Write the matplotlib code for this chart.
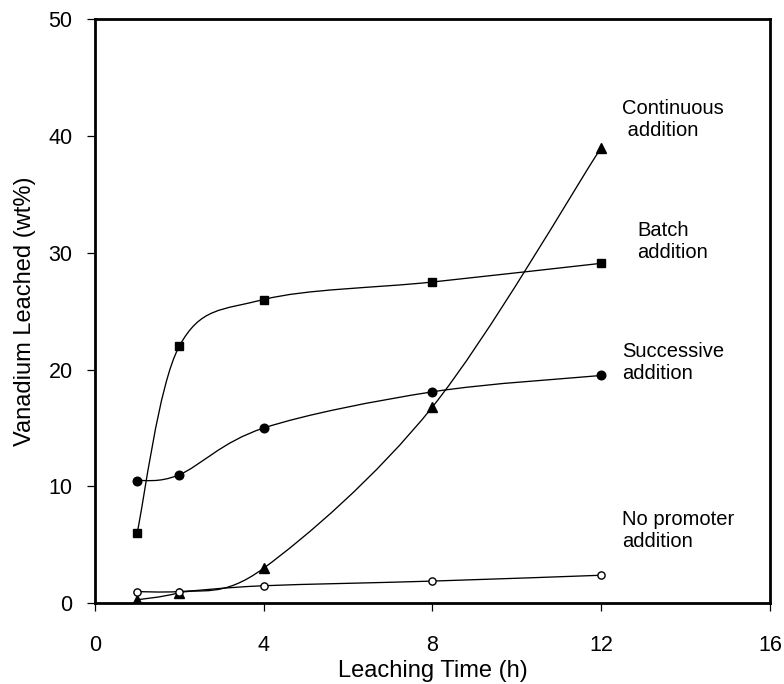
"""Vanadium leached vs leaching time for four promoter addition modes."""

import matplotlib

matplotlib.use("Agg")
import matplotlib.pyplot as plt
import numpy as np
from matplotlib.patches import PathPatch
from matplotlib.path import Path

INK = "#000000"

time_h = [1, 2, 4, 8, 12]
batch = [6.0, 22.0, 26.0, 27.5, 29.1]
successive = [10.5, 11.0, 15.0, 18.1, 19.5]
continuous = [0.3, 0.9, 3.0, 16.8, 39.0]
no_promoter = [1.0, 1.0, 1.5, 1.9, 2.4]

labels = ["Continuous\n addition", "Batch\naddition", "Successive\naddition",
          "No promoter\naddition"]
label_xy = [(12.5, 41.4), (12.85, 31.0), (12.5, 20.6), (12.5, 6.2)]


def smooth_path(xs, ys):
    """Excel-style smoothed line: Catmull-Rom segments as cubic Beziers."""
    pts = np.column_stack([xs, ys]).astype(float)
    n = len(pts)
    verts = [pts[0]]
    codes = [Path.MOVETO]
    for i in range(n - 1):
        p_prev = pts[max(i - 1, 0)]
        p0, p1 = pts[i], pts[i + 1]
        p_next = pts[min(i + 2, n - 1)]
        c1 = p0 + (p1 - p_prev) / 6.0
        c2 = p1 - (p_next - p0) / 6.0
        verts += [c1, c2, p1]
        codes += [Path.CURVE4] * 3
    return Path(verts, codes)


plt.rcParams.update({
    "font.family": ["Liberation Sans", "DejaVu Sans"],
    "font.size": 15,
})

fig = plt.figure(figsize=(7.84, 6.84), dpi=100)
ax = fig.add_axes([0.121, 0.118, 0.861, 0.854])

series = [
    (batch, dict(marker="s", ms=6.2, mfc=INK, mec=INK)),
    (successive, dict(marker="o", ms=6.2, mfc=INK, mec=INK)),
    (continuous, dict(marker="^", ms=7.2, mfc=INK, mec=INK)),
    (no_promoter, dict(marker="o", ms=5.2, mfc="white", mec=INK, mew=1.0)),
]
for values, style in series:
    ax.add_patch(PathPatch(smooth_path(time_h, values), facecolor="none",
                           edgecolor=INK, linewidth=0.95, zorder=2))
    ax.plot(time_h, values, linestyle="none", zorder=3, **style)

for text, (tx, ty) in zip(labels, label_xy):
    ax.text(tx, ty, text, fontsize=14.5, ha="left", va="center",
            linespacing=1.2, color=INK)

ax.set_xlim(0, 16)
ax.set_ylim(0, 50)
ax.set_xticks([0, 4, 8, 12, 16])
ax.set_yticks([0, 10, 20, 30, 40, 50])
ax.tick_params(direction="out", length=6, width=0.9, labelsize=15.5)
ax.tick_params(axis="x", pad=17)
ax.tick_params(axis="y", pad=10)
for spine in ax.spines.values():
    spine.set_linewidth(2.0)

ax.set_xlabel("Leaching Time (h)", fontsize=17, labelpad=3)
ax.set_ylabel("Vanadium Leached (wt%)", fontsize=17, labelpad=9)

fig.savefig("out.png", dpi=100)
